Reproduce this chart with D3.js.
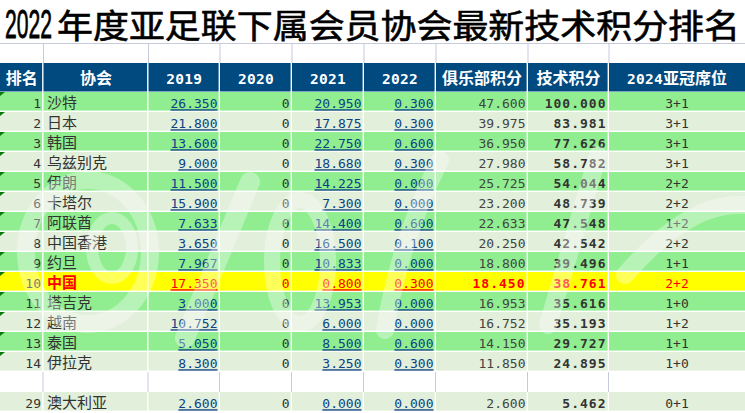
<!DOCTYPE html>
<html lang="zh">
<head>
    <meta charset="UTF-8">
    <title>2022年度亚足联下属会员协会最新技术积分排名</title>
    <script src="https://d3js.org/d3.v7.min.js"></script>
    <style>
        body { margin: 0; background: #fff; }
        .cjk { font-family: "Noto Sans CJK SC", sans-serif; }
        .num { font-family: "DejaVu Sans Mono", monospace; }
    </style>
</head>
<body>
    <div id="table"></div>

    <script>
        // table data
        const headers = ["排名", "协会", "2019", "2020", "2021", "2022", "俱乐部积分", "技术积分", "2024亚冠席位"];
        const ranks = ["1", "2", "3", "4", "5", "6", "7", "8", "9", "10", "11", "12", "13", "14", "", "29"];
        const associations = ["沙特", "日本", "韩国", "乌兹别克", "伊朗", "卡塔尔", "阿联酋", "中国香港", "约旦", "中国", "塔吉克", "越南", "泰国", "伊拉克", "", "澳大利亚"];
        const pts2019 = ["26.350", "21.800", "13.600", "9.000", "11.500", "15.900", "7.633", "3.650", "7.967", "17.350", "3.000", "10.752", "5.050", "8.300", "", "2.600"];
        const pts2020 = ["0", "0", "0", "0", "0", "0", "0", "0", "0", "0", "0", "0", "0", "0", "", "0"];
        const pts2021 = ["20.950", "17.875", "22.750", "18.680", "14.225", "7.300", "14.400", "16.500", "10.833", "0.800", "13.953", "6.000", "8.500", "3.250", "", "0.000"];
        const pts2022 = ["0.300", "0.300", "0.600", "0.300", "0.000", "0.000", "0.600", "0.100", "0.000", "0.300", "0.000", "0.000", "0.600", "0.300", "", "0.000"];
        const clubPoints = ["47.600", "39.975", "36.950", "27.980", "25.725", "23.200", "22.633", "20.250", "18.800", "18.450", "16.953", "16.752", "14.150", "11.850", "", "2.600"];
        const techPoints = ["100.000", "83.981", "77.626", "58.782", "54.044", "48.739", "47.548", "42.542", "39.496", "38.761", "35.616", "35.193", "29.727", "24.895", "", "5.462"];
        const seats = ["3+1", "3+1", "3+1", "3+1", "2+2", "2+2", "1+2", "2+2", "1+1", "2+2", "1+0", "1+2", "1+1", "1+0", "", "0+1"];

        const width = 745, height = 413;
        const colEdges = [0, 43.5, 148.5, 220, 292, 364, 436, 528, 609, 745];
        const colKeys = d3.range(headers.length);

        const x0 = d3.scaleOrdinal().domain(colKeys).range(colEdges.slice(0, -1));
        const x1 = d3.scaleOrdinal().domain(colKeys).range(colEdges.slice(1));
        const y = d3.scaleBand().domain(d3.range(ranks.length)).range([92, 412]).padding(0);

        const svg = d3.select("#table").append("svg")
            .attr("width", width)
            .attr("height", height);

        // title, digits are tall and narrow in the original -> squeeze them horizontally
        const yearTitle = svg.append("text")
            .attr("font-family", "Liberation Sans, sans-serif")
            .attr("font-size", 40)
            .attr("fill", "#000")
            .attr("stroke", "#000").attr("stroke-width", 0.8)
            .text("2022");
        const yearW = yearTitle.node().getComputedTextLength();
        yearTitle.attr("transform", `translate(5,37.5) scale(${47 / yearW},1)`);

        svg.append("text")
            .attr("class", "cjk")
            .attr("x", 57).attr("y", 38)
            .attr("font-size", 33)
            .attr("textLength", 683)
            .attr("lengthAdjust", "spacingAndGlyphs")
            .attr("fill", "#000")
            .attr("stroke", "#000").attr("stroke-width", 0.6)
            .text("年度亚足联下属会员协会最新技术积分排名");

        // grid lines of the empty row under the title
        svg.append("line")
            .attr("x1", 0).attr("x2", width)
            .attr("y1", 43.5).attr("y2", 43.5)
            .attr("stroke", "#c6cbdc");
        svg.selectAll(".vline")
            .data(colEdges.slice(1, -1))
            .enter().append("line")
            .attr("x1", d => d).attr("x2", d => d)
            .attr("y1", 44).attr("y2", 63)
            .attr("stroke", "#c6cbdc");

        // header
        const gap = 1.4;
        svg.selectAll(".hcell")
            .data(colKeys)
            .enter().append("rect")
            .attr("x", d => x0(d))
            .attr("y", 63)
            .attr("width", d => x1(d) - x0(d) - (d === colKeys.length - 1 ? 0 : gap))
            .attr("height", 28.5)
            .attr("fill", "#004a80");

        svg.selectAll(".htext")
            .data(colKeys)
            .enter().append("text")
            .attr("x", d => (x0(d) + x1(d)) / 2)
            .attr("y", 84)
            .attr("text-anchor", "middle")
            .attr("fill", "#fff")
            .attr("font-weight", "bold")
            .each(function(d) {
                const t = d3.select(this);
                // digits in mono, chinese in cjk
                const parts = headers[d].match(/[0-9]+|[^0-9]+/g);
                parts.forEach(p => {
                    const isNum = /^[0-9]+$/.test(p);
                    t.append("tspan")
                        .attr("class", isNum ? "num" : "cjk")
                        .attr("font-size", isNum ? 14.5 : 16)
                        .attr("letter-spacing", isNum ? 0.3 : 0)
                        .text(p);
                });
            });

        // body rows
        const rows = svg.selectAll(".row")
            .data(d3.range(ranks.length))
            .enter().append("g")
            .attr("class", "row")
            .attr("transform", i => `translate(0,${y(i)})`);

        const rowFill = i => {
            if (ranks[i] === "") return "#ffffff";
            if (ranks[i] === "10") return "#ffff00";
            return i % 2 === 0 ? "#90ee90" : "#e2efda";
        };

        rows.each(function(i) {
            const g = d3.select(this);
            const blank = ranks[i] === "";
            const china = ranks[i] === "10";
            const rh = y.bandwidth() - gap;

            g.selectAll("rect")
                .data(colKeys)
                .enter().append("rect")
                .attr("x", d => x0(d))
                .attr("y", 0)
                .attr("width", d => x1(d) - x0(d) - (d === colKeys.length - 1 ? 0 : gap))
                .attr("height", blank ? y.bandwidth() : rh)
                .attr("fill", rowFill(i));

            if (blank) {
                g.selectAll("line")
                    .data(colEdges.slice(1, -1))
                    .enter().append("line")
                    .attr("x1", d => d - 0.5).attr("x2", d => d - 0.5)
                    .attr("y1", 0).attr("y2", y.bandwidth())
                    .attr("stroke", "#c6cbdc");
                return;
            }

            // small green marker in the rank cell
            if (ranks[i] !== "29") {
                g.append("path")
                    .attr("d", "M0,0 L5,0 L0,4 Z")
                    .attr("fill", "#0a7a0a");
            }

            const base = 16.3;
            const red = "#ff0000";
            const link = china ? red : "#0d3f86";
            const dark = china ? red : "#333";

            const cells = [
                { c: 0, v: ranks[i], anchor: "end", cls: "num", color: "#333" },
                { c: 1, v: associations[i], anchor: "start", cls: "cjk", color: dark, bold: china },
                { c: 2, v: pts2019[i], anchor: "end", cls: "num", color: link, under: true },
                { c: 3, v: pts2020[i], anchor: "end", cls: "num", color: dark },
                { c: 4, v: pts2021[i], anchor: "end", cls: "num", color: link, under: true },
                { c: 5, v: pts2022[i], anchor: "end", cls: "num", color: link, under: true },
                { c: 6, v: clubPoints[i], anchor: "end", cls: "num", color: china ? red : "#444", bold: china },
                { c: 7, v: techPoints[i], anchor: "end", cls: "num", color: china ? red : "#333", bold: true },
                { c: 8, v: seats[i], anchor: "middle", cls: "num", color: dark }
            ];

            g.selectAll("text")
                .data(cells)
                .enter().append("text")
                .attr("class", d => d.cls)
                .attr("x", d => d.anchor === "end" ? x1(d.c) - 2.5 :
                                d.anchor === "start" ? x0(d.c) + 3.5 :
                                (x0(d.c) + x1(d.c)) / 2)
                .attr("y", base)
                .attr("text-anchor", d => d.anchor)
                .attr("font-size", d => d.cls === "cjk" ? 15 : 13)
                .attr("font-weight", d => d.bold ? "bold" : "normal")
                .attr("letter-spacing", d => d.c === 7 || (d.c === 6 && d.bold) ? 1 : 0)
                .attr("fill", d => d.color)
                .style("text-decoration", d => d.under ? "underline" : "none")
                .text(d => d.v);
        });

        // faint white brush watermark over the middle of the table
        const wm = svg.append("g")
            .attr("fill", "none")
            .attr("stroke", "#fff")
            .attr("stroke-linecap", "round")
            .attr("opacity", 0.35)
            .style("pointer-events", "none");
        wm.append("ellipse")
            .attr("cx", 88).attr("cy", 252).attr("rx", 62).attr("ry", 72)
            .attr("stroke-width", 18);
        wm.append("ellipse")
            .attr("cx", 112).attr("cy", 248).attr("rx", 20).attr("ry", 30)
            .attr("stroke-width", 12);
        wm.append("path")
            .attr("d", "M185,338 L250,182")
            .attr("stroke-width", 20);
        wm.append("ellipse")
            .attr("cx", 300).attr("cy", 262).attr("rx", 28).attr("ry", 62)
            .attr("stroke-width", 16);
        wm.append("path")
            .attr("d", "M385,330 Q400,240 440,160")
            .attr("stroke-width", 18);
        wm.append("path")
            .attr("d", "M548,325 L598,155")
            .attr("stroke-width", 18);
        wm.append("path")
            .attr("d", "M625,275 Q690,200 745,205")
            .attr("stroke-width", 18);
    </script>
</body>
</html>
